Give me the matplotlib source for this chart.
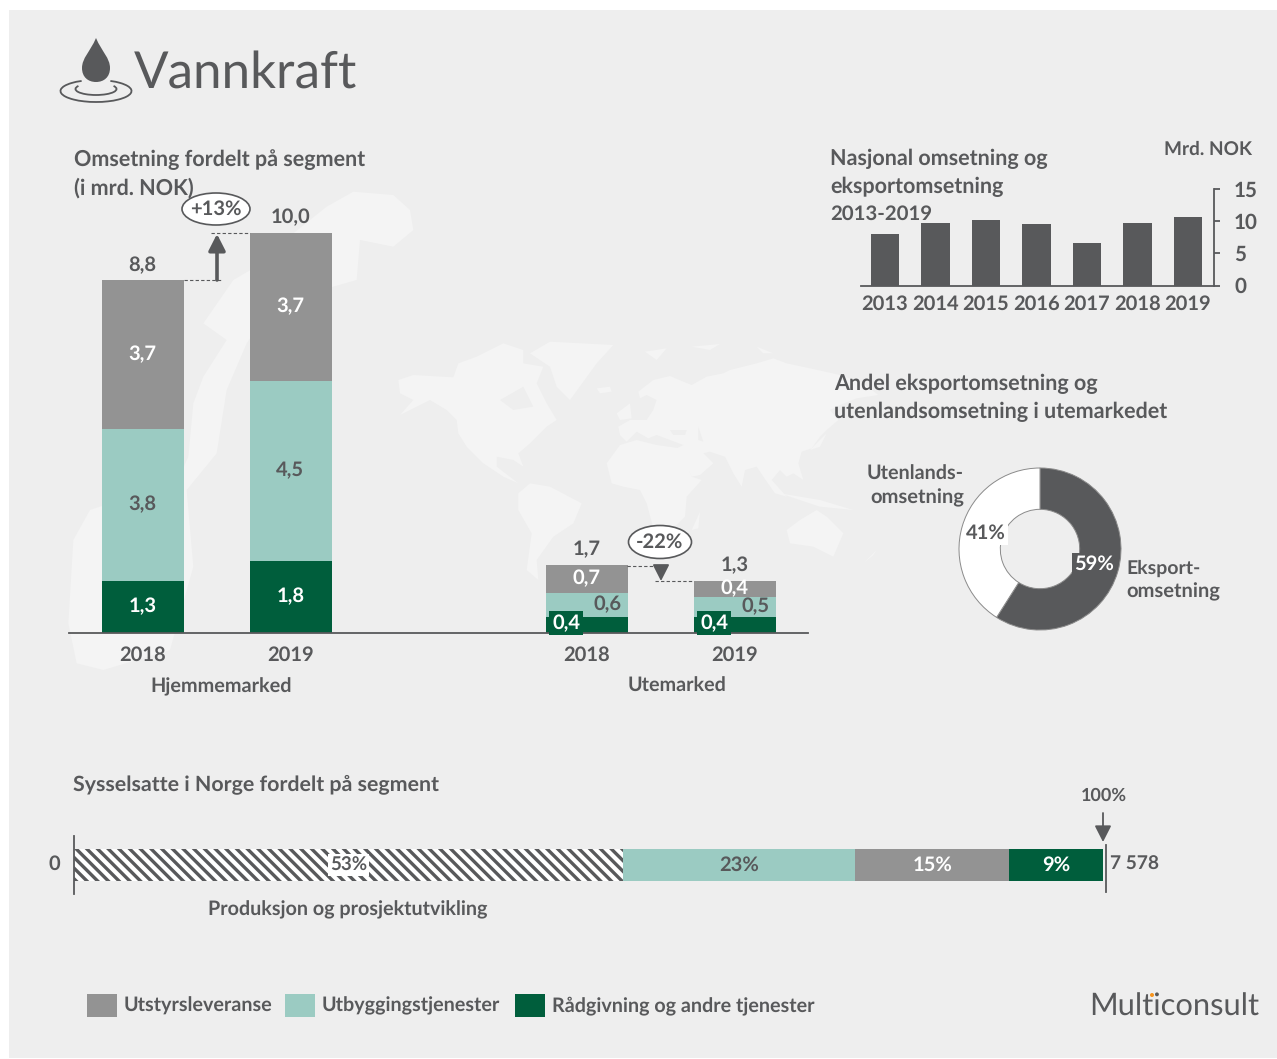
import matplotlib
matplotlib.use("Agg")
import matplotlib.pyplot as plt
from matplotlib.patches import Rectangle, Polygon, Ellipse, Arc, PathPatch, Circle
from matplotlib.path import Path

# ---- data ----
market_groups = ["Hjemmemarked", "Utemarked"]
market_years = ["2018", "2019", "2018", "2019"]
market_pos = [0, 1, 3, 4]
radgivning = [1.3, 1.8, 0.4, 0.4]
utbygging = [3.8, 4.5, 0.6, 0.5]
utstyr = [3.7, 3.7, 0.7, 0.4]
market_totals = [8.8, 10.0, 1.7, 1.3]

nat_years = ["2013", "2014", "2015", "2016", "2017", "2018", "2019"]
nat_values = [8.0, 9.7, 10.2, 9.5, 6.6, 9.7, 10.7]
nat_ticks = [0, 5, 10, 15]

share_labels = ["Eksport-\nomsetning", "Utenlands-\nomsetning"]
share_values = [59, 41]

emp_labels = ["53%", "23%", "15%", "9%"]
emp_values = [53.35, 22.55, 15.0, 9.1]
emp_total = "7 578"
segment_names = ["Utstyrsleveranse", "Utbyggingstjenester", "Rådgivning og andre tjenester"]

# ---- style ----
W, H = 1277, 1059
DARK = "#58595B"; GREY = "#939393"; TEAL = "#9BCBC2"; GREEN = "#005E3C"
PANEL = "#EEEEEE"; MAP = "#F4F4F4"
plt.rcParams["font.family"] = ["Lato", "DejaVu Sans"]
plt.rcParams["text.hinting"] = "none"
plt.rcParams["text.hinting_factor"] = 8
FS = 14.5
HEAD = 15.5
WT = "bold"

fig = plt.figure(figsize=(W / 100, H / 100), dpi=100, facecolor="white")

def axpx(x0, y0, x1, y1, z):
    return fig.add_axes([x0 / W, 1 - y1 / H, (x1 - x0) / W, (y1 - y0) / H], zorder=z)

# background layer in pixel space
bg = axpx(0, 0, W, H, 0)
bg.set_xlim(0, W); bg.set_ylim(H, 0); bg.axis("off")
bg.add_patch(Rectangle((9, 10), W - 9, 1048, color=PANEL, lw=0))

def zpoly(pts, ox, oy, color=MAP):
    bg.add_patch(Polygon([(ox + a / 3, oy + b / 3) for a, b in pts], closed=True, fc=color, ec="none"))

world = [
 [(25,180),(70,165),(190,172),(205,130),(260,110),(340,70),(400,90),(400,130),(460,140),(440,190),(470,250),(500,300),(470,320),(420,370),(385,400),(400,440),(370,420),(320,410),(320,440),(385,490),(340,470),(280,430),(230,380),(205,340),(200,300),(170,270),(120,240),(30,285),(70,240),(30,220)],
 [(420,100),(480,65),(670,75),(620,130),(540,240),(500,200),(480,140)],
 [(385,520),(420,490),(480,500),(575,550),(550,610),(490,650),(440,720),(445,780),(410,750),(425,640),(385,570)],
 [(650,430),(690,375),(740,360),(800,375),(870,385),(905,470),(935,480),(890,530),(885,590),(850,625),(790,625),(770,550),(750,510),(700,500),(665,490)],
 [(690,345),(685,320),(720,300),(770,300),(790,270),(800,240),(770,225),(750,235),(745,215),(790,180),(840,168),(880,185),(905,195),(950,170),(1000,160),(1020,150),(1100,130),(1150,115),(1190,130),(1260,145),(1350,165),(1420,190),(1465,225),(1400,235),(1350,255),(1320,270),(1345,300),(1310,330),(1290,350),(1265,385),(1235,395),(1225,430),(1240,480),(1210,460),(1190,470),(1170,450),(1145,480),(1190,530),(1155,520),(1120,470),(1100,440),(1065,450),(1055,500),(1030,460),(1005,410),(960,395),(940,400),(970,430),(930,465),(905,470),(870,405),(860,385),(880,375),(800,345),(775,355),(740,335),(710,365)],
 [(1190,630),(1230,600),(1280,570),(1310,590),(1360,640),(1330,710),(1270,680),(1200,670)],
 [(620,205),(660,200),(665,215),(630,220)],
 [(680,280),(720,250),(725,295),(690,300)],
 [(905,630),(930,575),(925,625)],
 [(1420,730),(1460,690),(1450,705)],
 [(1170,520),(1290,540),(1390,570),(1290,560)],
 [(765,95),(830,85),(800,120)],
 [(1260,390),(1310,340),(1290,380)],
 [(905,80),(990,72),(960,90)],
 [(1100,80),(1150,100),(1120,100)],
]
for p in world:
    zpoly(p, 390, 320)
zpoly([(330,240),(400,200),(430,260),(370,270)], 390, 320, PANEL)
zpoly([(840,330),(890,330),(885,345),(850,345)], 390, 320, PANEL)
zpoly([(925,320),(940,365),(925,360)], 390, 320, PANEL)
zpoly([(1050,60),(1000,15),(880,5),(800,50),(700,130),(640,200),(520,270),(430,400),(500,450),(430,560),(400,640),(385,800),(340,900),(180,930),(90,960),(40,1050),(25,1300),(50,1420),(130,1440),(330,1380),(400,1130),(380,900),(470,790),(500,600),(560,460),(600,400),(720,340),(820,290),(890,270),(900,150),(1000,170),(1060,120)], 60, 190)

# stacked market chart
ax = axpx(69, 232.5, 808, 632.5, 1)
ax.patch.set_alpha(0)
ax.set_xlim(-0.5, 4.493); ax.set_ylim(0, 10)
bottom = [0, 0, 0, 0]
stacks = [(radgivning, GREEN), (utbygging, TEAL), (utstyr, GREY)]
label_style = {
    GREEN: [("white", 0, 0), ("white", 0, 0), ("white", -20, 1), ("white", -20, 1)],
    TEAL: [(DARK, 0, 0), (DARK, 0, 0), (DARK, 21, 0), (DARK, 21, 0)],
    GREY: [("white", 0, 0), ("white", 0, 0), ("white", 0, 0), ("white", 0, 0)],
}
for vals, col in stacks:
    ax.bar(market_pos, vals, 0.555, bottom=bottom, color=col, lw=0)
    for i, v in enumerate(vals):
        c, dx, dy = label_style[col][i]
        bb = dict(boxstyle="square,pad=0.15", fc=GREEN, ec="none") if (col == GREEN and i >= 2) else None
        ax.annotate(f"{v:.1f}".replace(".", ","), (market_pos[i], bottom[i] + v / 2), xytext=((dx - 0.7) * .72, (dy + 0.5) * .72),
                    textcoords="offset points", ha="center", va="center", color=c, fontsize=FS, fontweight=WT,
                    bbox=bb, annotation_clip=False)
    bottom = [b + v for b, v in zip(bottom, vals)]
for p, t in zip(market_pos, market_totals):
    ax.annotate(f"{t:.1f}".replace(".", ","), (p, t), xytext=(-0.5, 11), textcoords="offset points", ha="center",
                va="center", color=DARK, fontsize=FS, fontweight=WT, annotation_clip=False)
for s in ["top", "left", "right"]:
    ax.spines[s].set_visible(False)
ax.spines["bottom"].set_color(DARK); ax.spines["bottom"].set_linewidth(1.3)
ax.set_yticks([])
ax.set_xticks(market_pos, market_years, color=DARK, fontsize=FS, fontweight=WT)
ax.tick_params(axis="x", length=0, pad=9.5)

# national revenue chart
a2 = axpx(861, 189, 1214, 285.5, 1)
a2.patch.set_alpha(0)
a2.set_xlim(-0.475, 6.515); a2.set_ylim(0, 15)
a2.bar(range(7), nat_values, 0.56, color=DARK, lw=0)
for s in ["top", "left"]:
    a2.spines[s].set_visible(False)
for s in ["bottom", "right"]:
    a2.spines[s].set_color(DARK); a2.spines[s].set_linewidth(1.3)
a2.yaxis.tick_right()
a2.set_yticks(nat_ticks, [str(t) for t in nat_ticks], color=DARK, fontsize=FS + 0.4, fontweight=WT)
a2.set_xticks(range(7), nat_years, color=DARK, fontsize=FS, fontweight=WT)
a2.tick_params(axis="x", length=0, pad=7)
a2.tick_params(axis="y", length=4.5, width=1.3, color=DARK, pad=10)

# donut
a3 = axpx(959, 468, 1121, 630, 1)
a3.patch.set_alpha(0)
a3.pie(share_values, startangle=90, counterclock=False, colors=[DARK, "white"], radius=1,
       wedgeprops=dict(width=0.51, edgecolor="#8A8A8A", linewidth=0.7))
a3.set_xlim(-1, 1); a3.set_ylim(-1, 1)

# employment bar
a4 = axpx(74, 836, 1103, 894, 1)
a4.patch.set_alpha(0)
a4.set_xlim(0, 100); a4.set_ylim(0, 1)
emp_colors = ["white", TEAL, GREY, GREEN]
emp_text = [DARK, DARK, "white", "white"]
left = 0
for i, v in enumerate(emp_values):
    r = a4.barh(0.5, v, 0.5517, left=left, color=emp_colors[i], lw=0, zorder=2)[0]
    if i == 0:
        for k in range(-6, 60):
            ln, = a4.plot([k * 1.04, k * 1.04 + 5.64], [1, 0], color=DARK, lw=2.4, solid_capstyle="butt", zorder=3)
            ln.set_clip_path(r)
    bb = dict(boxstyle="square,pad=0.12", fc="white", ec="none") if i == 0 else None
    a4.text(left + v / 2, 0.5, emp_labels[i], ha="center", va="center", color=emp_text[i], fontsize=FS if i else 13.5,
            fontweight=WT, bbox=bb, zorder=4)
    left += v
for s in ["top", "right", "bottom"]:
    a4.spines[s].set_visible(False)
a4.spines["left"].set_color(DARK); a4.spines["left"].set_linewidth(1.3)
a4.set_xticks([]); a4.set_yticks([])

# overlay
o = axpx(0, 0, W, H, 5)
o.patch.set_alpha(0); o.set_xlim(0, W); o.set_ylim(H, 0); o.axis("off")

def T(x, y, s, ha="left", color=DARK, fs=FS, w=WT, **kw):
    o.text(x, y + 1.5, s, ha=ha, va="center", color=color, fontsize=fs, fontweight=w, **kw)

T(134, 72, "Vannkraft", fs=36.8, w="normal")
drop = Path([(96, 38), (90, 52), (82, 58), (82, 68), (82, 77), (88, 82), (96, 82), (104, 82), (110, 77), (110, 68), (110, 58), (102, 52), (96, 38)],
            [1, 4, 4, 4, 4, 4, 4, 4, 4, 4, 4, 4, 4])
o.add_patch(PathPatch(drop, fc=DARK, ec="none"))
o.add_patch(Arc((96, 91), 71, 22, theta1=-35, theta2=215, ec=DARK, lw=1.3))
o.add_patch(Arc((96, 89), 41, 12, theta1=-10, theta2=190, ec=DARK, lw=1.3))

T(74, 158, "Omsetning fordelt på segment", fs=HEAD)
T(74, 186, "(i mrd. NOK)", fs=HEAD)
T(830, 157, "Nasjonal omsetning og", fs=HEAD)
T(830, 185, "eksportomsetning", fs=HEAD)
T(830, 213, "2013-2019", fs=14.7)
T(1164, 148, "Mrd. NOK", fs=13.7)
T(834, 382, "Andel eksportomsetning og", fs=HEAD)
T(834, 410, "utenlandsomsetning i utemarkedet", fs=HEAD)
T(964, 473, share_labels[1].split("\n")[0], ha="right", fs=14.2)
T(964, 496, share_labels[1].split("\n")[1], ha="right")
T(1126, 567, share_labels[0].split("\n")[0], fs=14)
T(1126, 590, share_labels[0].split("\n")[1])
T(986, 532, f"{share_values[1]}%", ha="center", bbox=dict(boxstyle="square,pad=0.1", fc="white", ec="none"))
T(1094, 563, f"{share_values[0]}%", ha="center", color="white", bbox=dict(boxstyle="square,pad=0.1", fc=DARK, ec="none"))
T(221, 685, market_groups[0], ha="center", fs=14.3)
T(677, 685, market_groups[1], ha="center", fs=14.2)
T(73, 783, "Sysselsatte i Norge fordelt på segment", fs=15.4)
T(348, 908, "Produksjon og prosjektutvikling", ha="center", fs=14.2)
T(1104, 794, "100%", ha="center", fs=13)
T(54, 863, "0", ha="center")
T(1110, 863, emp_total, fs=13.8)

# growth callouts
for (cx, cy, ew, eh, s) in [(216, 209, 68, 32, "+13%"), (660, 542, 63, 33, "-22%")]:
    o.add_patch(Ellipse((cx, cy), ew, eh, fc="white", ec=DARK, lw=1.2))
    T(cx, cy - 1, s, ha="center")
for x0, x1, y in [(184, 222, 280), (211, 250, 233), (627, 667, 566), (655, 693, 581)]:
    o.plot([x0, x1], [y, y], color=DARK, lw=0.8, ls=(0, (3, 2)))
for x, y0, y1, lw in [(217, 280, 234, 2.6), (661, 567, 581, 1.4), (1103, 813, 842, 1.3)]:
    o.annotate("", xy=(x, y1), xytext=(x, y0),
               arrowprops=dict(arrowstyle="-|>,head_width=0.28,head_length=0.55", color=DARK, lw=lw, shrinkA=0, shrinkB=0, mutation_scale=18))
o.plot([1106, 1106], [845, 892], color=DARK, lw=1.3)

# legend
for x, tx, c, n in zip([87, 285, 515], [124, 322, 552], [GREY, TEAL, GREEN], segment_names):
    o.add_patch(Rectangle((x, 994), 30, 23, fc=c, ec="none"))
    T(tx, 1004, n, fs=14.25)

# logo
T(1089, 1005, "Multiconsult", fs=22.2, w="normal")
o.add_patch(Circle((1152, 995), 2, fc="#F7941D", ec="none"))

fig.savefig("out.png", dpi=100, facecolor="white")
